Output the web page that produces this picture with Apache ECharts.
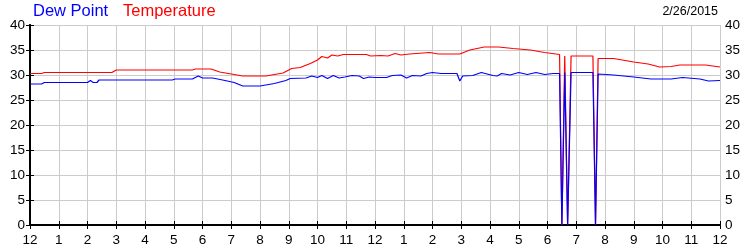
<!DOCTYPE html>
<html>
<head>
<meta charset="utf-8">
<script src="https://cdn.jsdelivr.net/npm/echarts@6/dist/echarts.min.js"></script>
<style>html,body{margin:0;padding:0;background:#fff}#c{width:750px;height:250px}</style>
</head>
<body>
<div id="c"></div>
<script>
var tempHours = [0,0.4,0.5,2.85,3.0,5.65,5.75,6.3,6.6,7.0,7.4,8.2,8.5,8.8,9.1,9.4,9.75,10.0,10.15,10.35,10.5,10.7,10.9,11.7,11.85,12.2,12.45,12.7,12.9,13.2,13.9,14.2,14.95,15.3,15.8,16.3,16.8,17.4,17.9,18.42,18.5,18.6,18.7,18.82,19.58,19.67,19.76,20.3,20.6,21.0,21.5,21.9,22.3,22.6,23.5,24];
var tempValues = [30.3,30.3,30.5,30.5,31.0,31.0,31.2,31.2,30.6,30.2,29.8,29.8,30.1,30.4,31.3,31.5,32.3,33.0,33.7,33.4,34.0,33.8,34.1,34.1,33.8,33.9,33.8,34.3,34.0,34.2,34.5,34.2,34.2,35.0,35.6,35.6,35.3,35.0,34.5,34.1,0,33.8,0,33.8,33.8,0,33.3,33.3,33.0,32.6,32.2,31.6,31.7,32.0,32.0,31.6];
var dewHours = [0,0.4,0.5,2.0,2.1,2.2,2.33,2.4,4.95,5.05,5.65,5.85,6.0,6.35,6.7,7.1,7.4,8.0,8.5,8.9,9.05,9.6,9.8,10.0,10.15,10.35,10.55,10.75,10.95,11.2,11.45,11.6,11.8,12.0,12.4,12.6,12.9,13.1,13.3,13.6,13.8,14.0,14.3,14.85,14.95,15.05,15.4,15.7,15.9,16.1,16.25,16.4,16.7,17.0,17.3,17.6,17.9,18.2,18.42,18.5,18.6,18.7,18.82,19.58,19.67,19.76,20.3,21.0,21.6,22.3,22.7,23.3,23.6,24];
var dewValues = [28.2,28.2,28.5,28.5,28.9,28.5,28.5,29.0,29.0,29.2,29.2,29.8,29.4,29.4,29.0,28.5,27.8,27.8,28.3,28.9,29.3,29.4,29.8,29.5,29.9,29.3,29.9,29.4,29.6,29.9,29.8,29.3,29.6,29.5,29.5,29.9,30.0,29.4,29.9,29.8,30.3,30.5,30.3,30.3,28.8,29.8,29.9,30.5,30.2,29.9,29.8,30.3,30.0,30.5,30.1,30.5,30.1,30.3,30.3,0,30.5,0,30.5,30.5,0,30.2,30.0,29.6,29.2,29.2,29.5,29.2,28.8,28.9];
var hourLabels = ['12','1','2','3','4','5','6','7','8','9','10','11','12','1','2','3','4','5','6','7','8','9','10','11','12'];
var dateText = '2/26/2015';

function pairs(xs, ys){ return xs.map(function(x,i){ return [x, ys[i]]; }); }

var font = 'Liberation Sans, Arial, sans-serif';
var chart = echarts.init(document.getElementById('c'), null, {renderer:'canvas'});
var axisLineStyle = {color:'#000', width:2};
chart.setOption({
  animation:false,
  backgroundColor:'#fff',
  grid:{left:30, right:30, top:25, bottom:25, containLabel:false},
  graphic:[
    {type:'text', left:33, top:3, style:{text:'Dew Point', fill:'#0000ff', font:'16.5px ' + font}},
    {type:'text', left:123, top:3, style:{text:'Temperature', fill:'#ff0000', font:'16.5px ' + font}},
    {type:'text', right:32, top:5, style:{text:dateText, fill:'#000', font:'12.5px ' + font}}
  ],
  xAxis:[{
    type:'value', min:0, max:24, interval:1, position:'bottom',
    axisLine:{show:true, lineStyle:axisLineStyle},
    axisTick:{show:true, inside:true, length:4, lineStyle:{color:'#000', width:1}},
    axisLabel:{color:'#000', fontSize:13.5, fontFamily:font, margin:8, formatter:function(v){ return hourLabels[Math.round(v)]; }},
    splitLine:{show:true, lineStyle:{color:'#cccccc', width:1}}
  },{
    type:'value', min:0, max:24, interval:1, position:'top',
    axisLine:{show:true, lineStyle:axisLineStyle},
    axisTick:{show:true, inside:true, length:4, lineStyle:{color:'#000', width:1}},
    axisLabel:{show:false}, splitLine:{show:false}
  }],
  yAxis:[{
    type:'value', min:0, max:40, interval:5, position:'left',
    axisLine:{show:true, lineStyle:axisLineStyle},
    axisTick:{show:true, inside:true, length:4, lineStyle:{color:'#000', width:1}},
    axisLabel:{color:'#000', fontSize:13.5, fontFamily:font, margin:5},
    splitLine:{show:true, lineStyle:{color:'#cccccc', width:1}}
  },{
    type:'value', min:0, max:40, interval:5, position:'right',
    axisLine:{show:true, lineStyle:axisLineStyle},
    axisTick:{show:true, inside:true, length:4, lineStyle:{color:'#000', width:1}},
    axisLabel:{color:'#000', fontSize:13.5, fontFamily:font, margin:5},
    splitLine:{show:false}
  }],
  series:[{
    name:'Dew Point', type:'line', data:pairs(dewHours, dewValues), showSymbol:false, symbol:'none',
    lineStyle:{color:'#0000ff', width:1.2}, z:3
  },{
    name:'Temperature', type:'line', data:pairs(tempHours, tempValues), showSymbol:false, symbol:'none',
    lineStyle:{color:'#ff0000', width:1.2}, z:2
  }]
});
</script>
</body>
</html>
